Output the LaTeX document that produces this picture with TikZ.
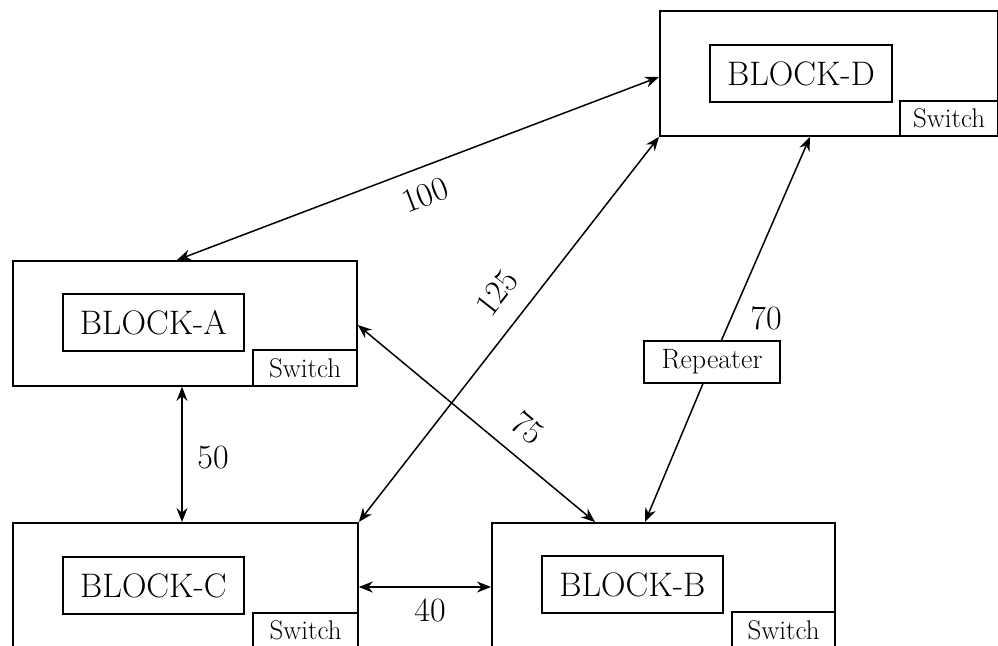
\documentclass[tikz,border=0pt]{standalone}
\usepackage{fontspec}
\usetikzlibrary{arrows.meta,calc}
\begin{document}
\begin{tikzpicture}[x=1pt,y=-1pt,
  outer/.style={draw, line width=1.8pt, anchor=north west, inner sep=0pt, minimum height=125pt},
  innerbox/.style={draw, line width=1.8pt, anchor=north west, inner sep=0pt, minimum height=57pt, minimum width=181pt, font=\fontsize{34}{40}\selectfont},
  sw/.style={draw, line width=1.4pt, anchor=south east, inner sep=0pt, minimum height=36pt, font=\fontsize{27}{32}\selectfont},
  lbl/.style={font=\fontsize{34}{40}\selectfont, inner sep=0pt},
  tip/.tip={Stealth[length=14pt,width=11pt]},
  link/.style={line width=1.5pt, tip-tip},
  half/.style={line width=1.5pt, -tip}]
\useasboundingbox (0,0) rectangle (998,645);
\clip (0,0) rectangle (998,645);
% outer blocks
\node[outer, minimum width=344pt] (A) at (12,260) {};
\node[outer, minimum width=338pt] (D) at (659,10) {};
\node[outer, minimum width=345pt] (C) at (12,522) {};
\node[outer, minimum width=343pt] (B) at (491,522) {};
% inner labels
\node[innerbox] (Ai) at (62,293) {BLOCK-A};
\node[innerbox, minimum width=182pt] (Di) at (709,44) {BLOCK-D};
\node[innerbox] (Ci) at (62,556) {BLOCK-C};
\node[innerbox] (Bi) at (541,555) {BLOCK-B};
% switches
\node[sw, minimum width=104pt] (As) at (A.south east) {Switch};
\node[sw, minimum width=98pt, minimum height=35pt] (Ds) at (D.south east) {Switch};
\node[sw, minimum width=105pt, minimum height=35pt] (Cs) at (C.south east) {Switch};
\node[sw, minimum width=103pt] (Bs) at (B.south east) {Switch};
% repeater
\node[draw, line width=1.4pt, fill=white, inner sep=0pt, minimum width=136pt, minimum height=42pt, font=\fontsize{28}{32}\selectfont] (R) at (712,362) {Repeater};
% links
\coordinate (pA100) at ($(A.north west)+(165,0)$);
\coordinate (pD100) at ($(D.north west)+(0,67)$);
\coordinate (pA75) at ($(A.north east)+(0,65)$);
\coordinate (pB75) at ($(B.north west)+(104,0)$);
\coordinate (pA50) at ($(A.south west)+(170,0)$);
\coordinate (pC50) at ($(C.north west)+(170,0)$);
\coordinate (pC40) at ($(C.north east)+(0,65)$);
\coordinate (pB40) at ($(B.north west)+(0,65)$);
\coordinate (pD70) at ($(D.south west)+(151,0)$);
\coordinate (pB70) at ($(B.north west)+(154,0)$);
\draw[link] (pA100) -- (pD100);
\draw[link] (C.north east) -- (D.south west);
\draw[link] (pA75) -- (pB75);
\draw[link] (pA50) -- (pC50);
\draw[link] (pC40) -- (pB40);
\draw[half] (R) -- (pD70);
\draw[half] (R) -- (pB70);
% labels
\node[lbl, rotate=21] (l100) at (425,195) {100};
\node[lbl, rotate=52] (l125) at (497,293) {125};
\node[lbl, rotate=-40] (l75) at (528,428) {75};
\node[lbl] (l70) at (766,318) {70};
\node[lbl] (l50) at (213,458) {50};
\node[lbl] (l40) at (430,610) {40};
\end{tikzpicture}
\end{document}
